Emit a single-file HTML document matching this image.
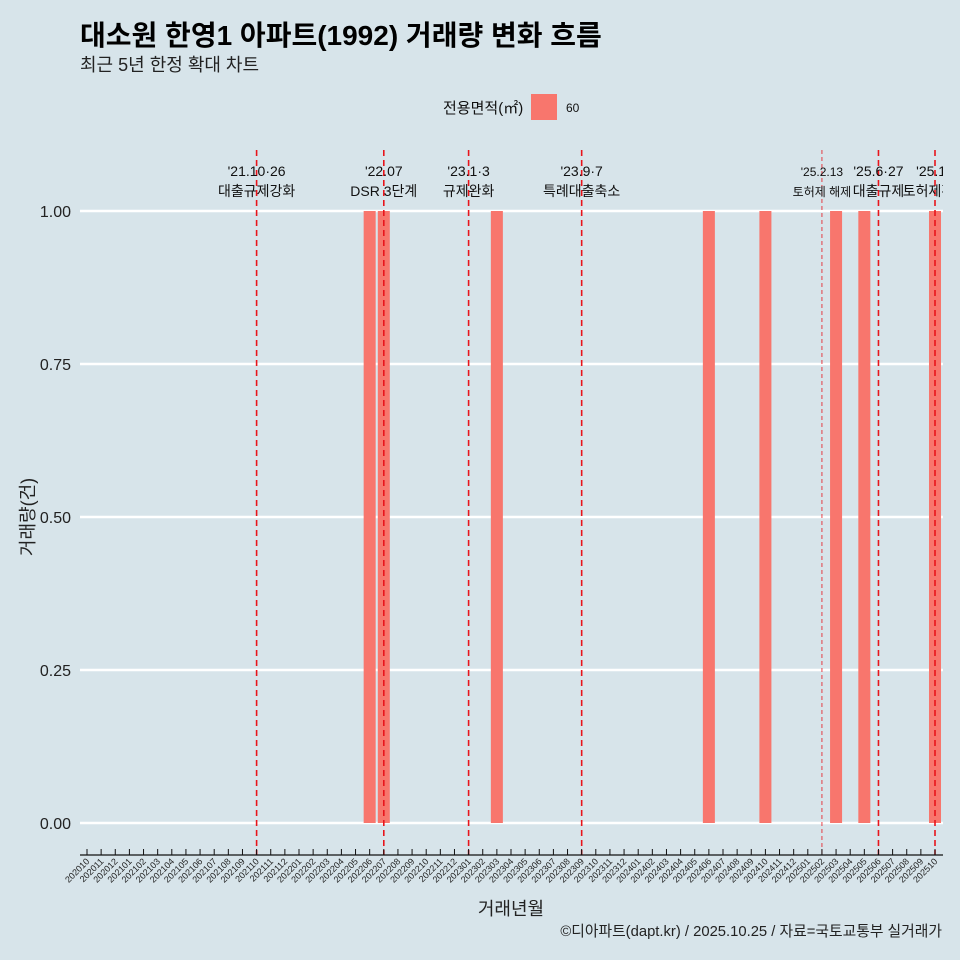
<!DOCTYPE html>
<html><head><meta charset="utf-8"><style>
body{margin:0;background:#d7e4ea;}
svg{display:block;font-family:"Liberation Sans","Noto Sans CJK KR",sans-serif;}
</style></head><body>
<svg width="960" height="960" viewBox="0 0 960 960">
<rect width="960" height="960" fill="#d7e4ea"/>
<text x="80" y="45" font-size="28" font-weight="bold" fill="#000">대소원 한영1 아파트(1992) 거래량 변화 흐름</text>
<text x="80" y="71" font-size="18" fill="#222">최근 5년 한정 확대 차트</text>
<g>
<text x="443" y="113" font-size="15" fill="#111">전용면적(㎡)</text>
<rect x="531" y="94" width="26" height="26" fill="#F8766D"/>
<text x="566" y="112" font-size="12" fill="#111">60</text>
</g>
<g id="grid"></g><g id="bars"></g><g id="vlines"></g><g id="ann"></g><g id="axes"></g>
<text transform="translate(34,517) rotate(-90)" text-anchor="middle" font-size="18" fill="#222">거래량(건)</text>
<text x="511" y="915" text-anchor="middle" font-size="18" fill="#222">거래년월</text>
<text x="942" y="936" text-anchor="end" font-size="14.8" fill="#222">©디아파트(dapt.kr) / 2025.10.25 / 자료=국토교통부 실거래가</text>
<defs><clipPath id="pc"><rect x="0" y="140" width="943" height="720"/></clipPath></defs>
</svg>
<script>
const months=[];for(let y=2020,m=10;!(y===2025&&m===11);){months.push(''+y+String(m).padStart(2,'0'));m++;if(m>12){m=1;y++;}}
const barMonths=['202206','202207','202303','202406','202410','202503','202505','202510'];
const barValues=[1,1,1,1,1,1,1,1];
const yTicks=[0,0.25,0.5,0.75,1.0];
const yTickLabels=['0.00','0.25','0.50','0.75','1.00'];
const eventMonths=['202110','202207','202301','202309','202502','202506','202510'];
const eventLine1=["'21.10·26","'22.07","'23.1·3","'23.9·7","'25.2.13","'25.6·27","'25.10"];
const eventLine2=['대출규제강화','DSR 3단계','규제완화','특례대출축소','토허제 해제','대출규제','토허제확대'];
const NS='http://www.w3.org/2000/svg';
const x0=87,dx=(935-87)/60;
const xs=m=>x0+months.indexOf(m)*dx;
const ys=v=>823-v*(823-211);
function mk(t,a,p){const e=document.createElementNS(NS,t);for(const k in a)e.setAttribute(k,a[k]);document.getElementById(p).appendChild(e);return e;}
yTicks.forEach((v,i)=>{
 const l=mk('line',{x1:80,x2:943,y1:ys(v),y2:ys(v),stroke:'#fff','stroke-width':2.5},'grid');
 
 
 const t=mk('text',{x:71,y:ys(v)+6,'text-anchor':'end','font-size':16,fill:'#222'},'axes');t.textContent=yTickLabels[i];
 
 
});
const bw=dx*0.85;
barMonths.forEach((m,i)=>{
 const r=mk('rect',{x:xs(m)-bw/2,y:ys(barValues[i]),width:bw,height:ys(0)-ys(barValues[i]),fill:'#F8766D'},'bars');
 
 
});
const ann=document.getElementById('ann');ann.setAttribute('clip-path','url(#pc)');
eventMonths.forEach((m,i)=>{
 const x=xs(m),thin=m==='202502';
 const l=mk('line',{x1:x,x2:x,y1:150,y2:855,stroke:'#e8141b','stroke-width':thin?1:1.6,'stroke-dasharray':thin?'4,3':'6,4',opacity:thin?0.8:1},'vlines');
 
 
 const fs=thin?12:14;
 const t1=mk('text',{x:x,y:176,'text-anchor':'middle','font-size':fs,fill:'#111'},'ann');t1.textContent=eventLine1[i];
 
 
 const t2=mk('text',{x:x,y:196,'text-anchor':'middle','font-size':fs,fill:'#111'},'ann');t2.textContent=eventLine2[i];
 
 
});
const ax=mk('line',{x1:80,x2:943,y1:855,y2:855,stroke:'#111','stroke-width':1.2},'axes');


months.forEach(m=>{
 const x=xs(m);
 const tk=mk('line',{x1:x,x2:x,y1:849,y2:855,stroke:'#111','stroke-width':1},'axes');
 
 
 const t=mk('text',{transform:`translate(${x+3},862) rotate(-45)`,'text-anchor':'end','font-size':9,fill:'#222'},'axes');t.textContent=m;
 
 
});
</script>
</body></html>
